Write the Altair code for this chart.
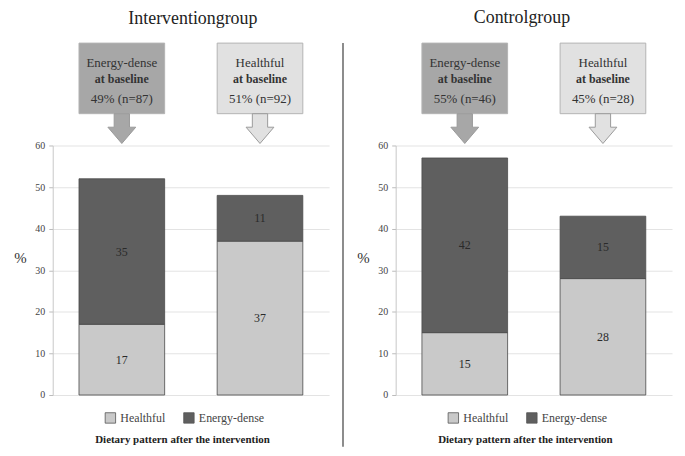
import altair as alt
import pandas as pd

# ---- data ----
groups = ["Interventiongroup", "Controlgroup"]
baseline_patterns = ["Energy-dense", "Healthful"]
after_patterns = ["Healthful", "Energy-dense"]
baseline_shares = {
    "Interventiongroup": ["49% (n=87)", "51% (n=92)"],
    "Controlgroup": ["55% (n=46)", "45% (n=28)"],
}
healthful_after = {"Interventiongroup": [17, 37], "Controlgroup": [15, 28]}
energy_dense_after = {"Interventiongroup": [35, 11], "Controlgroup": [42, 15]}
y_ticks = [0, 10, 20, 30, 40, 50, 60]
x_title = "Dietary pattern after the intervention"
baseline_line2 = "at baseline"

FONT = "Liberation Serif"
BAR_COLORS = ["#c9c9c9", "#5f5f5f"]
BOX_DARK = "#a7a7a7"
BOX_LIGHT = "#e1e1e1"
ARROW = "M -0.55 -1.07 L 0.55 -1.07 L 0.55 -0.1 L 1 -0.1 L 0 1.07 L -1 -0.1 L -0.55 -0.1 Z"


def panel(group, with_divider, title_dx):
    bars_df = pd.DataFrame({
        "baseline": baseline_patterns * 2,
        "pattern": [after_patterns[0]] * 2 + [after_patterns[1]] * 2,
        "value": healthful_after[group] + energy_dense_after[group],
    })
    bars_df["order"] = bars_df["pattern"].map({p: i for i, p in enumerate(after_patterns)})
    ann_df = pd.DataFrame({"baseline": baseline_patterns, "share": baseline_shares[group]})

    x_axis = alt.Axis(labels=False, ticks=False, domain=False, grid=False,
                      title=x_title, titleFont=FONT, titleFontSize=11,
                      titleFontWeight="bold", titleColor="#222",
                      titleY=45, titleBaseline="middle", titleX=130)
    x = alt.X("baseline:N", sort=baseline_patterns, axis=x_axis,
              scale=alt.Scale(paddingInner=0.38, paddingOuter=0.19))
    y_axis = alt.Axis(values=y_ticks, title="%", titleAngle=0, titleFont=FONT,
                      titleFontSize=15, titleFontWeight="normal", titleColor="#333",
                      titleX=-33, titleY=113, titleAlign="center", titleBaseline="middle",
                      labelFont=FONT, labelFontSize=10, labelColor="#444", labelPadding=4,
                      tickSize=4, tickColor="#bbbbbb", domainColor="#c8c8c8",
                      gridColor="#e3e3e3", grid=True)
    y_scale = alt.Scale(domain=[0, 60])

    base = alt.Chart(bars_df)
    bars = base.mark_bar(stroke="#4a4a4a", strokeWidth=0.8).encode(
        x=x,
        y=alt.Y("value:Q", stack="zero", scale=y_scale, axis=y_axis),
        color=alt.Color("pattern:N",
                        scale=alt.Scale(domain=after_patterns, range=BAR_COLORS),
                        legend=alt.Legend(orient="none", direction="horizontal",
                                          title=None, legendX=52, legendY=268,
                                          labelFont=FONT, labelFontSize=12,
                                          labelColor="#444",
                                          symbolType="square", symbolSize=110,
                                          symbolStrokeColor="#555", symbolStrokeWidth=0.8,
                                          columnPadding=16)),
        order=alt.Order("order:Q"),
    )
    labels = base.transform_stack(
        as_=["y0", "y1"], stack="value", groupby=["baseline"],
        sort=[alt.SortField("order", order="ascending")],
    ).transform_calculate(mid="(datum.y0 + datum.y1) / 2").mark_text(
        font=FONT, fontSize=12, color="#2a2a2a"
    ).encode(x=x, y=alt.Y("mid:Q", scale=y_scale, axis=y_axis), text="value:Q")

    fill_cond = alt.condition(alt.datum.baseline == baseline_patterns[0],
                              alt.value(BOX_DARK), alt.value(BOX_LIGHT))
    ann = alt.Chart(ann_df)
    boxes = ann.mark_bar(stroke="#b3b3b3", strokeWidth=1).encode(
        x=x, y=alt.value(-103), y2=alt.value(-32), fill=fill_cond)
    t1 = ann.mark_text(font=FONT, fontSize=13, color="#333").encode(
        x=x, y=alt.value(-83), text="baseline:N")
    t2 = ann.mark_text(font=FONT, fontSize=12, color="#333", fontWeight="bold").encode(
        x=x, y=alt.value(-67), text=alt.value(baseline_line2))
    t3 = ann.mark_text(font=FONT, fontSize=13, color="#333").encode(
        x=x, y=alt.value(-47), text="share:N")
    arrows = ann.mark_point(shape=ARROW, size=784, filled=True, opacity=1,
                            stroke="#9a9a9a", strokeWidth=1).encode(
        x=x, y=alt.value(-17), fill=fill_cond)

    layers = [bars, labels, boxes, t1, t2, t3, arrows]
    if with_divider:
        divider = alt.Chart(pd.DataFrame({"d": [0]})).mark_rule(
            color="#8c8c8c", strokeWidth=2).encode(
            x=alt.value(-53), y=alt.value(-103), y2=alt.value(303))
        layers.append(divider)

    return alt.layer(*layers).properties(
        width=278, height=251,
        title=alt.TitleParams(group, font=FONT, fontSize=18, fontWeight="normal",
                              color="#222", anchor="middle", frame="group",
                              offset=15, dx=title_dx),
    )


chart = alt.hconcat(
    panel(groups[0], False, 2),
    panel(groups[1], True, -12),
    spacing=13,
).resolve_scale(color="independent").resolve_legend(color="independent").configure(
    font=FONT
).configure_view(
    stroke=None
).configure_text(font=FONT).configure_axis(labelFont=FONT, titleFont=FONT).configure_legend(
    labelFont=FONT, titleFont=FONT
).configure_title(font=FONT).properties(
    background="white", padding={"left": 5, "top": 0, "right": 5, "bottom": 0}
)

chart.save("out.html", embed_options={"renderer": "svg", "actions": False})
